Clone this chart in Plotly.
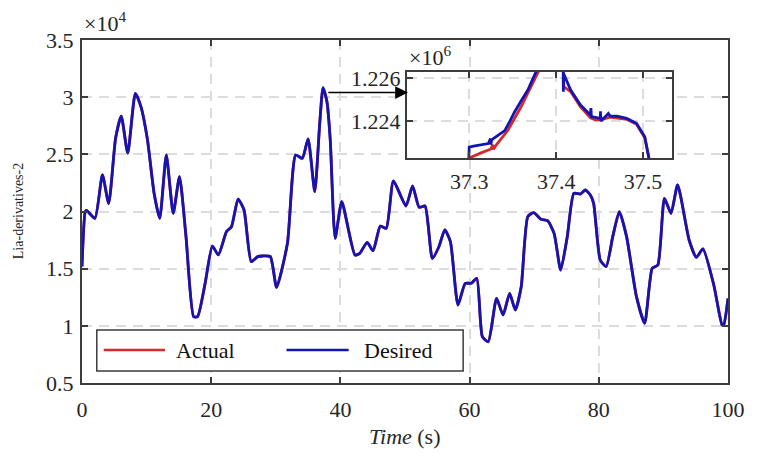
import plotly.graph_objects as go

# ---------------- data (main axes, y in units of 1e4) ----------------
time_s = [0, 0.5, 0.7, 2.0, 3.16, 4.13, 5.2, 6.07, 7.08, 8.26, 9.12, 10.14, 11.16, 12.03,
          13.05, 14.12, 15.09, 16.1, 17.28, 17.89, 19.06, 20.18, 21.1, 22.37, 23.14, 24.16,
          25.08, 26.2, 27.2, 27.98, 29.15, 30.12, 31.8, 33.08, 34.1, 35.0, 36.03, 36.8, 37.31,
          37.92, 38.43, 39.19, 40.21, 42.25, 43.0, 44.14, 45.06, 46.18, 47.1, 48.21, 50.15,
          51.17, 52.19, 53.1, 54.23, 55.25, 56.16, 57.03, 58.2, 59.32, 60.24, 61.11, 61.97,
          62.89, 64.17, 65.18, 66.2, 67.07, 67.99, 69.01, 69.92, 71.04, 72.07, 73.08, 74.1,
          75.12, 76.14, 77.16, 77.93, 78.69, 79.2, 80.22, 81.14, 82.16, 83.18, 84.3, 85.83,
          87.1, 88.27, 89.14, 90.16, 91.18, 92.2, 93.98, 95.1, 96.12, 97.8, 99.08, 99.33, 100]
desired_e4 = [1.52, 2.0, 2.01, 1.94, 2.32, 2.07, 2.64, 2.835, 2.51, 3.034, 2.917, 2.625, 2.159,
              1.94, 2.494, 1.984, 2.305, 1.78, 1.08, 1.08, 1.372, 1.698, 1.62, 1.824, 1.867,
              2.109, 2.013, 1.561, 1.605, 1.611, 1.605, 1.337, 1.722, 2.494, 2.465, 2.634,
              2.173, 2.771, 3.083, 2.96, 2.625, 1.765, 2.086, 1.62, 1.634, 1.73, 1.657, 1.873,
              1.853, 2.267, 2.048, 2.223, 2.036, 2.048, 1.59, 1.692, 1.838, 1.736, 1.182,
              1.372, 1.372, 1.416, 0.905, 0.861, 1.24, 1.095, 1.284, 1.138, 1.343, 1.955, 1.99,
              1.932, 1.92, 1.809, 1.488, 1.78, 2.159, 2.153, 2.188, 2.144, 2.071, 1.576, 1.518,
              1.78, 1.999, 1.78, 1.255, 1.022, 1.503, 1.532, 2.115, 1.984, 2.232, 1.751, 1.599,
              1.672, 1.357, 1.007, 1.007, 1.24]
actual_e4 = list(desired_e4)  # indistinguishable from desired at this scale

# ---------------- data (inset, y in units of 1e6) ----------------
inset_t_desired = [37.2995, 37.3000, 37.3050, 37.3144, 37.3220, 37.3245, 37.3250, 37.3258,
                   37.3320, 37.3409, 37.3470, 37.3523, 37.3600, 37.3674, 37.3769, 37.3850,
                   37.3950, 37.4080, 37.4083, 37.4086, 37.4167, 37.4280, 37.4394, 37.4400,
                   37.4405, 37.4508, 37.4510, 37.4515, 37.4560, 37.4600, 37.4621, 37.4700,
                   37.4810, 37.4924, 37.5019, 37.5068, 37.5080]
inset_desired_e6 = [1.2222, 1.22278, 1.22283, 1.22288, 1.22295, 1.22318, 1.22290, 1.22312,
                    1.22330, 1.22355, 1.22400, 1.22443, 1.22495, 1.22544, 1.22629, 1.22680,
                    1.22700, 1.22660, 1.22536, 1.22620, 1.22544, 1.22474, 1.22428, 1.22460,
                    1.22420, 1.22412, 1.22445, 1.22400, 1.22418, 1.22435, 1.22423, 1.22422,
                    1.22412, 1.22389, 1.22327, 1.22229, 1.2220]
inset_t_actual = [37.3000, 37.3006, 37.3144, 37.3250, 37.3270, 37.3280, 37.3295, 37.3447,
                  37.3598, 37.3788, 37.3870, 37.3980, 37.4085, 37.4088, 37.4170, 37.4280,
                  37.4394, 37.4450, 37.4508, 37.4621, 37.4810, 37.4924, 37.5019, 37.5068]
inset_actual_e6 = [1.2222, 1.22229, 1.22253, 1.22270, 1.22290, 1.22268, 1.22280, 1.22358,
                   1.22467, 1.22629, 1.22690, 1.22700, 1.22650, 1.22560, 1.22535, 1.22465,
                   1.22415, 1.22405, 1.22405, 1.22418, 1.22408, 1.22385, 1.22322, 1.22225]

main_xticks = [0, 20, 40, 60, 80, 100]
main_yticks = [0.5, 1, 1.5, 2, 2.5, 3, 3.5]
inset_xticks = [37.3, 37.4, 37.5]
inset_yticks = [1.224, 1.226]

series_names = ["Actual", "Desired"]
RED = "#d42a2a"
BLUE = "#1414b4"
AXC = "#3c3c3c"
TXT = "#262626"
GRID = "#dcdcdc"
FONT = "Liberation Serif, Times New Roman, DejaVu Serif, serif"

fig = go.Figure()
fig.add_trace(go.Scatter(x=time_s, y=actual_e4, mode="lines", name=series_names[0],
                         line=dict(color=RED, width=2.8, shape="spline", smoothing=0.55),
                         showlegend=False))
fig.add_trace(go.Scatter(x=time_s, y=desired_e4, mode="lines", name=series_names[1],
                         line=dict(color=BLUE, width=2.8, shape="spline", smoothing=0.55),
                         showlegend=False))
fig.add_trace(go.Scatter(x=inset_t_actual, y=inset_actual_e6, mode="lines", xaxis="x2", yaxis="y2",
                         line=dict(color=RED, width=2.8), showlegend=False))
fig.add_trace(go.Scatter(x=inset_t_desired, y=inset_desired_e6, mode="lines", xaxis="x2", yaxis="y2",
                         line=dict(color=BLUE, width=2.8), showlegend=False))

axis_common = dict(showline=True, linecolor=AXC, linewidth=2, mirror="ticks",
                   ticks="inside", ticklen=6, tickwidth=1.5, tickcolor=AXC,
                   showgrid=True, gridcolor=GRID, gridwidth=1.5, griddash="10px,7px",
                   zeroline=False, tickfont=dict(family=FONT, size=22, color=TXT))

fig.update_layout(
    width=757, height=459,
    margin=dict(l=82, r=21, t=40, b=76),
    paper_bgcolor="white", plot_bgcolor="white",
    xaxis=dict(range=[0, 100], tickvals=main_xticks, domain=[0, 1], ticklabelstandoff=6,
               **axis_common),
    yaxis=dict(range=[0.5, 3.5], tickvals=main_yticks, domain=[0, 1], ticklabelstandoff=2,
               **axis_common),
    xaxis2=dict(range=[37.2284, 37.533], tickvals=inset_xticks, domain=[0.503, 0.913],
                anchor="y2", ticklabelstandoff=3, **axis_common),
    yaxis2=dict(range=[1.22228, 1.22628], tickvals=inset_yticks, tickformat=".3f",
                domain=[0.656, 0.907], anchor="x2", **axis_common),
)

annotations = [
    dict(text="×10<sup>4</sup>", xref="paper", yref="paper", x=0, y=1, xanchor="left",
         yanchor="bottom", showarrow=False, font=dict(family=FONT, size=22, color=TXT), yshift=2),
    dict(text="×10<sup>6</sup>", xref="paper", yref="paper", x=0.503, y=0.907, xanchor="left",
         yanchor="bottom", showarrow=False, font=dict(family=FONT, size=22, color=TXT), yshift=0),
    dict(text="Lia-derivatives-2", xref="paper", yref="paper", x=-0.098, y=0.5, textangle=-90,
         xanchor="center", yanchor="middle", showarrow=False, font=dict(family=FONT, size=14, color=TXT)),
    dict(text="<i>Time</i> (s)", xref="paper", yref="paper", x=0.5, y=-0.157, xanchor="center",
         yanchor="middle", showarrow=False, font=dict(family=FONT, size=22, color=TXT)),
    # arrow from the peak to the inset
    dict(x=50.45, y=3.04, ax=37.9, ay=3.04, xref="x", yref="y", axref="x", ayref="y",
         text="", showarrow=True, arrowhead=2, arrowsize=1.7, arrowwidth=1.5, arrowcolor="black"),
    # legend text
    dict(text=series_names[0], xref="paper", yref="paper", x=0.1422, y=0.0962, xanchor="left",
         yanchor="middle", showarrow=False, font=dict(family=FONT, size=22, color="#111111")),
    dict(text=series_names[1], xref="paper", yref="paper", x=0.4327, y=0.0962, xanchor="left",
         yanchor="middle", showarrow=False, font=dict(family=FONT, size=22, color="#111111")),
]
fig.update_layout(annotations=annotations)

shapes = [
    dict(type="rect", xref="paper", yref="paper", x0=0.0229, x1=0.590, y0=0.035, y1=0.1545,
         line=dict(color=AXC, width=1.5), fillcolor="white", layer="above"),
    dict(type="line", xref="paper", yref="paper", x0=0.0336, x1=0.1284, y0=0.0962, y1=0.0962,
         line=dict(color=RED, width=2.5), layer="above"),
    dict(type="line", xref="paper", yref="paper", x0=0.3165, x1=0.4128, y0=0.0962, y1=0.0962,
         line=dict(color=BLUE, width=2.5), layer="above"),
]
fig.update_layout(shapes=shapes)

fig.write_html("out.html")
